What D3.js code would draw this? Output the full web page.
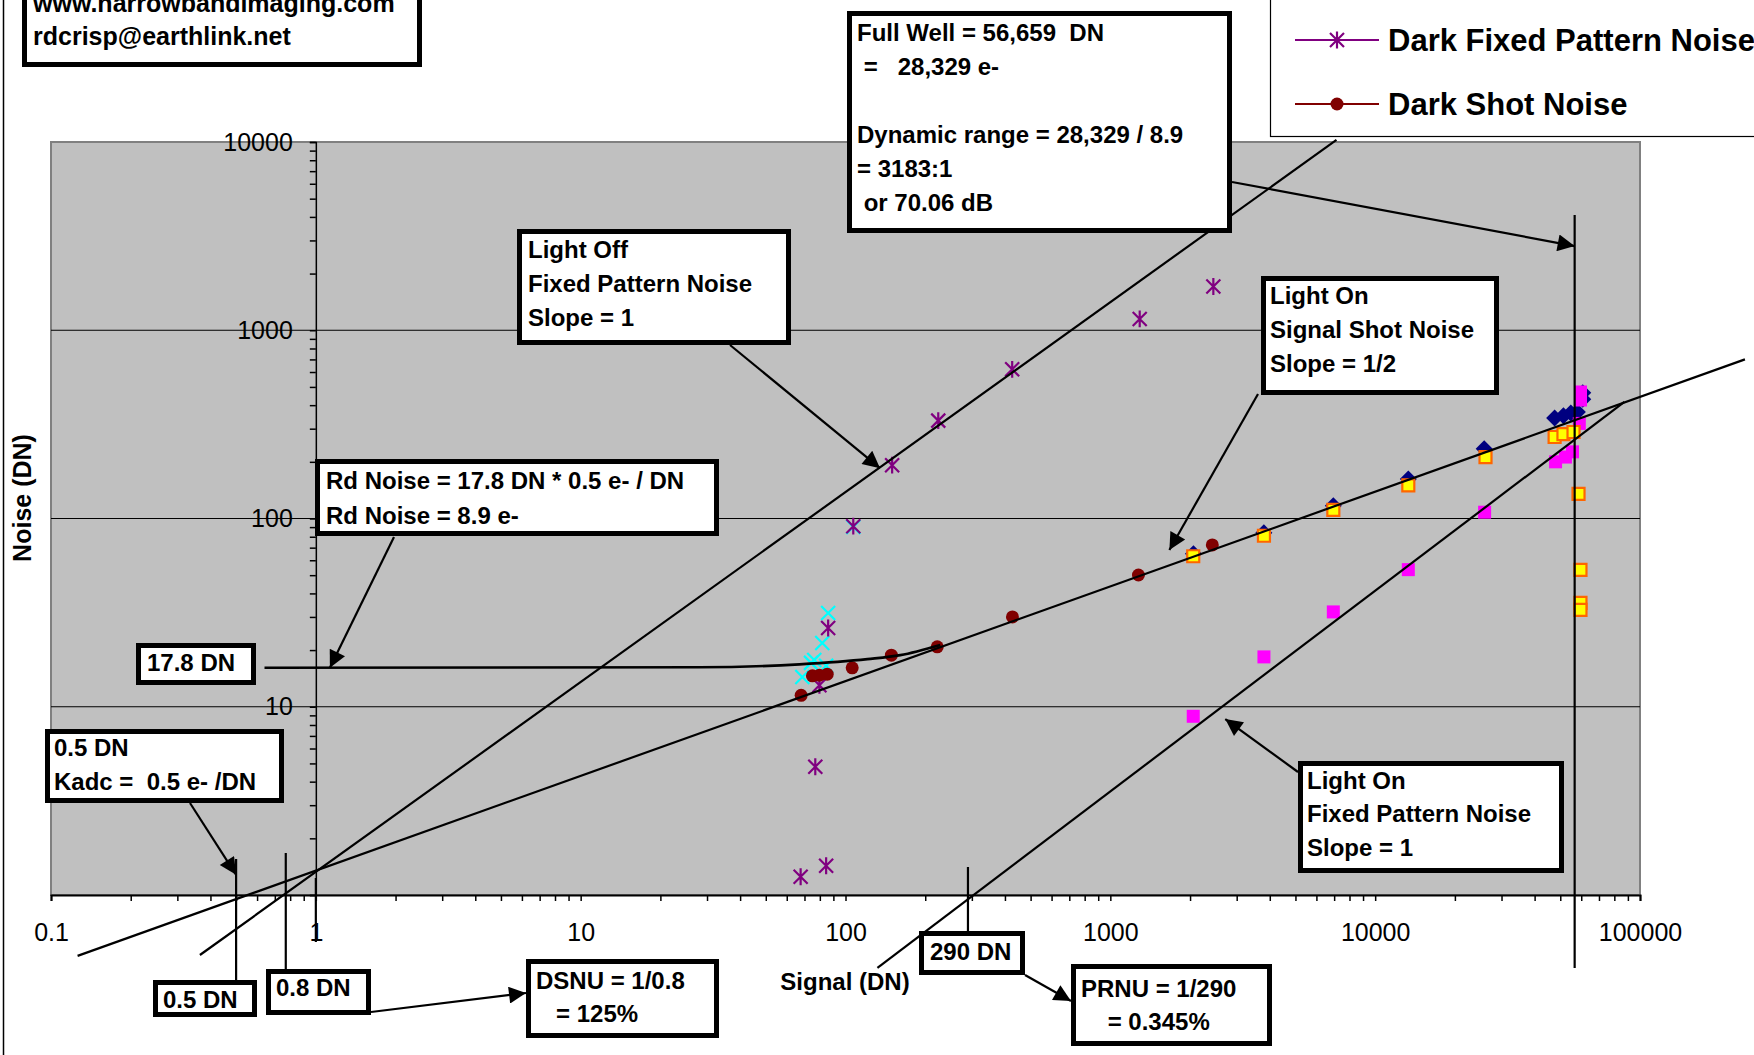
<!DOCTYPE html>
<meta charset="utf-8">
<script src="https://d3js.org/d3.v7.min.js"></script>
<style>
  body { margin: 0; background: #fff; }
  text { font-family: "Liberation Sans", Arial, sans-serif; }
</style>
<div id="chart"></div>
<script>

// measured series, [signal DN, noise DN]
var lightTotal = [[2060, 65], [3800, 84], [6950, 117], [13340, 162], [25800, 235],
  [47600, 342], [51400, 351], [54800, 363], [58000, 368], [60800, 465], [60800, 430]];
var lightFPN = [[2056, 8.9], [3802, 18.4], [6950, 31.9], [13340, 53.5], [25900, 108],
  [48000, 200], [52300, 212], [55600, 226], [59000, 320], [59600, 426], [59600, 470]];
var lightShot = [[2056, 63], [3802, 81], [6950, 111], [13340, 150], [26100, 212],
  [47600, 271], [51400, 281], [56100, 288], [58600, 135], [59600, 53.3], [59600, 35.6], [59600, 32.7]];
var darkTotal = [[68.7, 14.4], [74.1, 17.1], [76.2, 17.7], [81.7, 21.8], [84.5, 16.5], [86, 31.5], [107, 90.2]];
var darkFPN = [[67.7, 1.25], [84.5, 1.43], [76.9, 4.8], [79.7, 13.0], [86, 26.2], [107, 91],
  [150, 192], [224, 331], [426, 620], [1291, 1148], [2449, 1708]];
var darkShot = [[68, 11.5], [75, 14.6], [79.7, 14.7], [85.3, 14.9], [106, 16.1], [149, 18.8],
  [222, 20.8], [427, 30.0], [1277, 50.1], [2427, 72.4]];

// hand drawn fit lines, in data units
var lightOffLine = [[0.365, 0.48], [7145, 10250]];
var shotLine = [[0.126, 0.475], [249000, 700]];
var prnuLine = [[132, 0.41], [87300, 416]];
var readNoiseCurve = [[0.64, 16.1], [28, 16.2], [67, 16.8], [121, 17.9], [161, 18.8], [228, 21.3]];

var xDecades = [0.1, 1, 10, 100, 1000, 10000, 100000];
var yDecades = [1, 10, 100, 1000, 10000];

var width = 1754, height = 1055;

var svg = d3.select("#chart").append("svg")
  .attr("width", width).attr("height", height);

var x = d3.scaleLog().domain([0.1, 100000]).range([51, 1640]);
var y = d3.scaleLog().domain([1, 10000]).range([895, 142]);

function isDecade(d) { return Math.abs(Math.log10(d) - Math.round(Math.log10(d))) < 1e-9; }
function minorTicks(decades) {
  var t = [];
  decades.slice(0, -1).forEach(function(p) {
    for (var k = 1; k < 10; k++) t.push(+(k * p).toPrecision(10));
  });
  t.push(decades[decades.length - 1]);
  return t;
}

// arrow head
svg.append("defs").append("marker")
  .attr("id", "arrow").attr("viewBox", "0 0 10 10")
  .attr("refX", 10).attr("refY", 5)
  .attr("markerWidth", 20).attr("markerHeight", 17)
  .attr("markerUnits", "userSpaceOnUse").attr("orient", "auto")
  .append("path").attr("d", "M0,0L10,5L0,10z").attr("fill", "#000");

// page border on left
svg.append("line").attr("x1", 3.5).attr("x2", 3.5).attr("y1", 0).attr("y2", height)
  .attr("stroke", "#000").attr("stroke-width", 1.5);

// plot area
svg.append("rect")
  .attr("x", x.range()[0]).attr("y", y.range()[1])
  .attr("width", x.range()[1] - x.range()[0]).attr("height", y.range()[0] - y.range()[1])
  .attr("fill", "#c0c0c0").attr("stroke", "#808080").attr("stroke-width", 2);

// gridlines
svg.append("g").selectAll("line")
  .data([10, 100, 1000])
  .enter().append("line")
    .attr("x1", x.range()[0]).attr("x2", x.range()[1])
    .attr("y1", function(d) { return y(d); }).attr("y2", function(d) { return y(d); })
    .attr("stroke", "#000").attr("stroke-width", 1.2);

// X axis
var gx = svg.append("g")
  .attr("transform", "translate(0," + y(1) + ")")
  .call(d3.axisBottom(x)
    .tickValues(minorTicks(xDecades))
    .tickSize(6).tickPadding(22)
    .tickFormat(function(d) { return isDecade(d) ? String(d) : ""; }));
gx.select(".domain").attr("stroke", "#000").attr("stroke-width", 2);
gx.selectAll(".tick line").attr("stroke", "#000").attr("stroke-width", 1.5);
gx.selectAll("text").attr("font-size", 25).attr("fill", "#000")
  .style("font-family", "Liberation Sans, Arial, sans-serif");

// Y axis crosses at signal = 1
var gy = svg.append("g")
  .attr("transform", "translate(" + x(1) + ",0)")
  .call(d3.axisLeft(y)
    .tickValues(minorTicks(yDecades))
    .tickSize(6).tickPadding(17)
    .tickFormat(function(d) { return isDecade(d) && d > 1 ? String(d) : ""; }));
gy.select(".domain").attr("stroke", "#000").attr("stroke-width", 1.5);
gy.selectAll(".tick line").attr("stroke", "#000").attr("stroke-width", 1.5);
gy.selectAll("text").attr("font-size", 25).attr("fill", "#000")
  .style("font-family", "Liberation Sans, Arial, sans-serif");

// axis titles
svg.append("text").attr("transform", "translate(31,498) rotate(-90)")
  .attr("text-anchor", "middle").attr("font-size", 25).attr("font-weight", "bold")
  .text("Noise (DN)");
svg.append("text").attr("x", 845).attr("y", 990)
  .attr("text-anchor", "middle").attr("font-size", 24).attr("font-weight", "bold")
  .text("Signal (DN)");

// marker shapes
function sym(kind, s) {
  if (kind === "star") return "M" + (-s) + "," + (-s) + "L" + s + "," + s + "M" + (-s) + "," + s + "L" + s + "," + (-s) + "M0," + (-s * 1.2) + "L0," + (s * 1.2);
  if (kind === "x") return "M" + (-s) + "," + (-s) + "L" + s + "," + s + "M" + (-s) + "," + s + "L" + s + "," + (-s);
  if (kind === "diamond") return "M0," + (-s) + "L" + s + ",0L0," + s + "L" + (-s) + ",0z";
  return "M" + (-s) + "," + (-s) + "h" + (2 * s) + "v" + (2 * s) + "h" + (-2 * s) + "z";
}

var series = [
  {data: lightTotal, kind: "diamond", size: 8.5, fill: "#000080", stroke: "none", sw: 0},
  {data: lightFPN, kind: "square", size: 6.5, fill: "#ff00ff", stroke: "none", sw: 0},
  {data: lightShot, kind: "square", size: 6, fill: "#ffff00", stroke: "#ff6600", sw: 2.2},
  {data: darkTotal, kind: "x", size: 7, fill: "none", stroke: "#00ffff", sw: 2.2},
  {data: darkFPN, kind: "star", size: 7, fill: "none", stroke: "#800080", sw: 2.2},
  {data: darkShot, kind: "circle", size: 6.5, fill: "#800000", stroke: "none", sw: 0}
];

series.forEach(function(s) {
  var g = svg.append("g");
  if (s.kind === "circle") {
    g.selectAll("circle").data(s.data).enter().append("circle")
      .attr("cx", function(d) { return x(d[0]); })
      .attr("cy", function(d) { return y(d[1]); })
      .attr("r", s.size).attr("fill", s.fill);
  } else {
    g.selectAll("path").data(s.data).enter().append("path")
      .attr("transform", function(d) { return "translate(" + x(d[0]) + "," + y(d[1]) + ")"; })
      .attr("d", sym(s.kind, s.size))
      .attr("fill", s.fill).attr("stroke", s.stroke).attr("stroke-width", s.sw);
  }
});

// fit lines
var line = d3.line().x(function(d) { return x(d[0]); }).y(function(d) { return y(d[1]); });
[lightOffLine, shotLine, prnuLine].forEach(function(l) {
  svg.append("path").attr("d", line(l)).attr("fill", "none")
    .attr("stroke", "#000").attr("stroke-width", 2.2);
});
svg.append("path").attr("d", line.curve(d3.curveMonotoneX)(readNoiseCurve))
  .attr("fill", "none").attr("stroke", "#000").attr("stroke-width", 2.6);
line.curve(d3.curveLinear);

// vertical marker lines: signal value, pixel top and bottom
var vlines = [[56659, 215, 968], [0.5, 859, 980], [0.77, 853, 969], [1, 878, 942], [290, 867, 931]];
svg.append("g").selectAll("line").data(vlines).enter().append("line")
  .attr("x1", function(d) { return x(d[0]); }).attr("x2", function(d) { return x(d[0]); })
  .attr("y1", function(d) { return d[1]; }).attr("y2", function(d) { return d[2]; })
  .attr("stroke", "#000").attr("stroke-width", 2.2);

// arrows: tail in pixels, head in data units (or pixels when px is set)
var arrows = [
  {from: [730, 345], to: [135, 185]},
  {from: [1258, 394], to: [1671, 68]},
  {from: [394, 537], to: [1.13, 16.1]},
  {from: [190, 803], to: [0.5, 1.28]},
  {from: [1298, 772], to: [2716, 8.6]},
  {from: [1232, 182], to: [56659, 2800]},
  {from: [371, 1012], to: [526, 993], px: true},
  {from: [1025, 975], to: [1071, 1001], px: true}
];
arrows.forEach(function(a) {
  var tx = a.px ? a.to[0] : x(a.to[0]), ty = a.px ? a.to[1] : y(a.to[1]);
  svg.append("line").attr("x1", a.from[0]).attr("y1", a.from[1])
    .attr("x2", tx).attr("y2", ty)
    .attr("stroke", "#000").attr("stroke-width", 2.2).attr("marker-end", "url(#arrow)");
});

// annotation boxes
var boxes = [
  {x0: 22, y0: -20, x1: 422, y1: 67, tx: 33, lines: [[12, "www.narrowbandimaging.com"], [45, "rdcrisp@earthlink.net"]], fs: 25},
  {x0: 847, y0: 11, x1: 1232, y1: 233, tx: 857, lines: [[41, "Full Well = 56,659  DN"], [75, " =   28,329 e-"], [143, "Dynamic range = 28,329 / 8.9"], [177, "= 3183:1"], [211, " or 70.06 dB"]]},
  {x0: 517, y0: 229, x1: 791, y1: 345, tx: 528, lines: [[258, "Light Off"], [292, "Fixed Pattern Noise"], [326, "Slope = 1"]]},
  {x0: 1261, y0: 276, x1: 1499, y1: 395, tx: 1270, lines: [[304, "Light On"], [338, "Signal Shot Noise"], [372, "Slope = 1/2"]]},
  {x0: 315, y0: 459, x1: 719, y1: 536, tx: 326, lines: [[489, "Rd Noise = 17.8 DN * 0.5 e- / DN"], [524, "Rd Noise = 8.9 e-"]]},
  {x0: 136, y0: 643, x1: 256, y1: 685, tx: 147, lines: [[671, "17.8 DN"]]},
  {x0: 45, y0: 729, x1: 284, y1: 803, tx: 54, lines: [[756, "0.5 DN"], [790, "Kadc =  0.5 e- /DN"]]},
  {x0: 1298, y0: 761, x1: 1564, y1: 873, tx: 1307, lines: [[789, "Light On"], [822, "Fixed Pattern Noise"], [856, "Slope = 1"]]},
  {x0: 153, y0: 980, x1: 257, y1: 1017, tx: 163, lines: [[1008, "0.5 DN"]]},
  {x0: 266, y0: 969, x1: 371, y1: 1015, tx: 276, lines: [[996, "0.8 DN"]]},
  {x0: 526, y0: 959, x1: 719, y1: 1038, tx: 536, lines: [[989, "DSNU = 1/0.8"], [1022, "   = 125%"]]},
  {x0: 919, y0: 931, x1: 1025, y1: 975, tx: 930, lines: [[960, "290 DN"]]},
  {x0: 1071, y0: 964, x1: 1272, y1: 1046, tx: 1081, lines: [[997, "PRNU = 1/290"], [1030, "    = 0.345%"]]}
];
boxes.forEach(function(b) {
  svg.append("rect")
    .attr("x", b.x0 + 2.5).attr("y", b.y0 + 2.5)
    .attr("width", b.x1 - b.x0 - 5).attr("height", b.y1 - b.y0 - 5)
    .attr("fill", "#fff").attr("stroke", "#000").attr("stroke-width", 5);
  b.lines.forEach(function(l) {
    svg.append("text").attr("x", b.tx).attr("y", l[0])
      .attr("font-size", b.fs || 24).attr("font-weight", "bold")
      .style("white-space", "pre").text(l[1]);
  });
});

// legend (upper entries are cut off by the page edge)
var legendItems = [
  {name: "Dark Fixed Pattern Noise", kind: "star", color: "#800080"},
  {name: "Dark Shot Noise", kind: "circle", color: "#800000"}
];
svg.append("rect").attr("x", 1270.5).attr("y", -10).attr("width", 500).attr("height", 146.5)
  .attr("fill", "#fff").attr("stroke", "#000").attr("stroke-width", 1.2);
var leg = svg.append("g").selectAll("g").data(legendItems).enter().append("g")
  .attr("transform", function(d, i) { return "translate(0," + (40 + i * 64) + ")"; });
leg.append("line").attr("x1", 1295).attr("x2", 1379)
  .attr("stroke", function(d) { return d.color; }).attr("stroke-width", 2);
leg.each(function(d) {
  var g = d3.select(this);
  if (d.kind === "circle") {
    g.append("circle").attr("cx", 1337).attr("r", 6.5).attr("fill", d.color);
  } else {
    g.append("path").attr("transform", "translate(1337,0)").attr("d", sym("star", 7))
      .attr("fill", "none").attr("stroke", d.color).attr("stroke-width", 2.2);
  }
});
leg.append("text").attr("x", 1388).attr("y", 11)
  .attr("font-size", 31).attr("font-weight", "bold")
  .text(function(d) { return d.name; });

</script>
